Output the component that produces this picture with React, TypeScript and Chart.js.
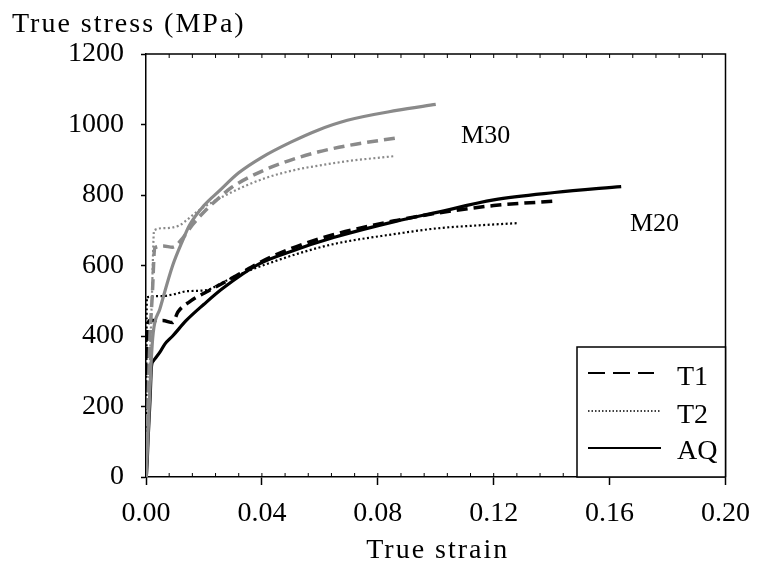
import React, { useEffect, useRef } from "react";
import { Chart, registerables } from "chart.js";

Chart.register(...registerables);

// ---- Axis ticks ----
const xTickValues = [0, 0.04, 0.08, 0.12, 0.16, 0.2];
const yTickValues = [0, 200, 400, 600, 800, 1000, 1200];

// ---- M30 (grey) ----
const m30AQStrain = [0, 0.0007, 0.0018, 0.0025, 0.0048, 0.0092, 0.0126, 0.015, 0.02, 0.0252, 0.032, 0.04, 0.05, 0.0593, 0.0695, 0.0865, 0.1];
const m30AQStress = [0, 120, 330, 410, 477, 600, 670, 714, 770, 811, 863, 907, 950, 984, 1012, 1040, 1057];

const m30T1Strain = [0, 0.0005, 0.0014, 0.0022, 0.003, 0.006, 0.0092, 0.0126, 0.016, 0.02, 0.0252, 0.0296, 0.0412, 0.0525, 0.0593, 0.0695, 0.0865];
const m30T1Stress = [0, 150, 400, 520, 650, 655, 652, 677, 715, 752, 792, 822, 872, 906, 922, 940, 962];

const m30T2Strain = [0, 0.0012, 0.002, 0.0028, 0.0065, 0.0116, 0.0135, 0.018, 0.0296, 0.0412, 0.0525, 0.0593, 0.0695, 0.0855];
const m30T2Stress = [0, 300, 500, 700, 706, 714, 725, 755, 808, 848, 873, 883, 896, 910];

// ---- M20 (black) ----
const m20AQStrain = [0, 0.0002, 0.0008, 0.0014, 0.0019, 0.0025, 0.0048, 0.0065, 0.0092, 0.0139, 0.02, 0.0263, 0.0389, 0.05, 0.065, 0.0865, 0.1, 0.12, 0.141, 0.164];
const m20AQStress = [0, 10, 120, 220, 315, 329, 354, 377, 400, 444, 490, 534, 604, 640, 680, 726, 750, 786, 807, 824];

const m20T1Strain = [0, 0.0002, 0.0004, 0.0014, 0.0058, 0.0092, 0.011, 0.015, 0.0208, 0.0263, 0.032, 0.0389, 0.05, 0.065, 0.0865, 0.1, 0.12, 0.142];
const m20T1Stress = [0, 200, 420, 444, 444, 438, 468, 497, 525, 549, 575, 607, 648, 688, 728, 748, 770, 783];

const m20T2Strain = [0, 0.0003, 0.005, 0.01, 0.014, 0.0208, 0.026, 0.032, 0.042, 0.055, 0.066, 0.0865, 0.1, 0.115, 0.128];
const m20T2Stress = [0, 510, 513, 519, 527, 530, 550, 574, 605, 640, 663, 690, 705, 714, 720];

// ---- Legend / labels ----
const legendLabels = ["T1", "T2", "AQ"];
const groupLabels = [
  { text: "M30", strain: 0.1172, stress: 966 },
  { text: "M20", strain: 0.1755, stress: 717 },
];

const FONT = "'Times New Roman', 'Liberation Serif', serif";
const GREY = "#8a8a8a";

const pts = (xs: number[], ys: number[]) => xs.map((x, i) => ({ x, y: ys[i] }));

const styleFor = (kind: string) => {
  if (kind === "T1") return { borderDash: [11, 6], borderWidth: 3.5 };
  if (kind === "T2") return { borderDash: [2, 2.5], borderWidth: 2.2 };
  return { borderDash: [], borderWidth: 3.2 };
};

const decorPlugin = {
  id: "decor",
  afterDraw(chart: any) {
    const { ctx, chartArea } = chart;
    const xs = chart.scales.x;
    const ys = chart.scales.y;
    const { left, right, top, bottom } = chartArea;
    ctx.save();
    ctx.strokeStyle = "#000";
    ctx.lineWidth = 1.5;
    ctx.setLineDash([]);
    // top and right frame
    ctx.beginPath();
    ctx.moveTo(left, top);
    ctx.lineTo(right, top);
    ctx.lineTo(right, bottom);
    ctx.stroke();
    // minor ticks (inside) on top and bottom
    ctx.lineWidth = 1;
    for (let i = 1; i < 25; i++) {
      const v = i * 0.008;
      const px = xs.getPixelForValue(v);
      ctx.beginPath();
      ctx.moveTo(px, top);
      ctx.lineTo(px, top + 4);
      ctx.moveTo(px, bottom);
      ctx.lineTo(px, bottom - 4);
      ctx.stroke();
    }
    // legend box
    const lx = 577, ly = 347;
    ctx.fillStyle = "#fff";
    ctx.fillRect(lx, ly, right - lx, bottom - ly);
    ctx.lineWidth = 1.5;
    ctx.strokeRect(lx, ly, right - lx, bottom - ly);
    const rows = [373, 411, 448];
    const base = [385, 423, 459];
    ctx.font = `28px ${FONT}`;
    ctx.fillStyle = "#000";
    ctx.textAlign = "left";
    ctx.textBaseline = "alphabetic";
    legendLabels.forEach((lab, i) => {
      ctx.beginPath();
      if (lab === "T1") { ctx.setLineDash([17, 8]); ctx.lineWidth = 2.2; }
      else if (lab === "T2") { ctx.setLineDash([1.5, 2]); ctx.lineWidth = 1.5; }
      else { ctx.setLineDash([]); ctx.lineWidth = 2.2; }
      ctx.moveTo(588, rows[i]);
      ctx.lineTo(lab === "T1" ? 654 : 661, rows[i]);
      ctx.stroke();
      ctx.setLineDash([]);
      ctx.fillText(lab, 677, base[i]);
    });
    // group labels
    ctx.font = `26px ${FONT}`;
    ctx.textAlign = "center";
    ctx.textBaseline = "middle";
    groupLabels.forEach((g) => {
      ctx.fillText(g.text, xs.getPixelForValue(g.strain), ys.getPixelForValue(g.stress));
    });
    // axis titles
    ctx.font = `28px ${FONT}`;
    (ctx as any).letterSpacing = "2px";
    ctx.textAlign = "left";
    ctx.textBaseline = "alphabetic";
    ctx.fillText("True stress (MPa)", 12, 32);
    ctx.textAlign = "center";
    ctx.fillText("True strain", (left + right) / 2 + 2, 558);
    (ctx as any).letterSpacing = "0px";
    ctx.restore();
  },
};

export default function App() {
  const ref = useRef<HTMLCanvasElement>(null);
  useEffect(() => {
    const series = [
      { kind: "AQ", color: GREY, xs: m30AQStrain, ys: m30AQStress },
      { kind: "T1", color: GREY, xs: m30T1Strain, ys: m30T1Stress },
      { kind: "T2", color: GREY, xs: m30T2Strain, ys: m30T2Stress },
      { kind: "AQ", color: "#000", xs: m20AQStrain, ys: m20AQStress },
      { kind: "T1", color: "#000", xs: m20T1Strain, ys: m20T1Stress },
      { kind: "T2", color: "#000", xs: m20T2Strain, ys: m20T2Stress },
    ];
    const chart = new Chart(ref.current!, {
      type: "scatter",
      data: {
        datasets: series.map((s) => ({
          label: s.kind,
          data: pts(s.xs, s.ys),
          showLine: true,
          borderColor: s.color,
          backgroundColor: s.color,
          pointRadius: 0,
          cubicInterpolationMode: "monotone" as const,
          borderCapStyle: "butt" as const,
          ...styleFor(s.kind),
        })),
      },
      plugins: [decorPlugin],
      options: {
        responsive: false,
        animation: false,
        layout: { padding: { top: 54, right: 29, left: 0, bottom: 0 } },
        plugins: { legend: { display: false }, tooltip: { enabled: false }, title: { display: false } },
        scales: {
          x: {
            type: "linear",
            min: 0,
            max: 0.2,
            afterBuildTicks: (s: any) => { s.ticks = xTickValues.map((v) => ({ value: v })); },
            afterFit: (s: any) => { s.height = 102; },
            ticks: {
              color: "#000",
              font: { family: FONT, size: 28 },
              padding: 12,
              maxRotation: 0,
              callback: (v: any) => Number(v).toFixed(2),
            },
            grid: { drawOnChartArea: false, drawTicks: true, tickLength: 8, tickColor: "#000", tickWidth: 1.5 },
            border: { color: "#000", width: 1.5 },
          },
          y: {
            type: "linear",
            min: 0,
            max: 1200,
            afterBuildTicks: (s: any) => { s.ticks = yTickValues.map((v) => ({ value: v })); },
            afterFit: (s: any) => { s.width = 146; },
            ticks: {
              color: "#000",
              font: { family: FONT, size: 28 },
              padding: 17,
              callback: (v: any) => String(v),
            },
            grid: { drawOnChartArea: false, drawTicks: true, tickLength: 5, tickColor: "#000", tickWidth: 1.5 },
            border: { color: "#000", width: 1.5 },
          },
        },
      },
    } as any);
    return () => chart.destroy();
  }, []);
  return (
    <div style={{ position: "fixed", left: 0, top: 0, width: 762, height: 579, background: "#fff" }}>
      <canvas ref={ref} width={762} height={579} style={{ display: "block" }} />
    </div>
  );
}
